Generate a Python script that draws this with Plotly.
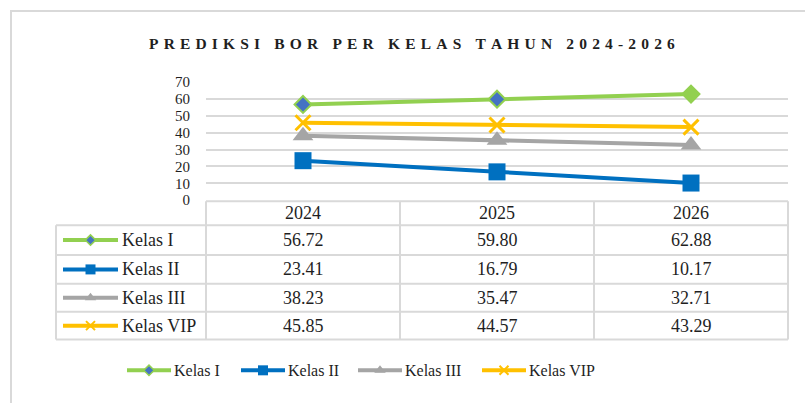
import plotly.graph_objects as go

# ---------------- data ----------------
title = "PREDIKSI BOR PER KELAS TAHUN 2024-2026"
years = ["2024", "2025", "2026"]
series_names = ["Kelas I", "Kelas II", "Kelas III", "Kelas VIP"]
kelas_i = [56.72, 59.80, 62.88]
kelas_ii = [23.41, 16.79, 10.17]
kelas_iii = [38.23, 35.47, 32.71]
kelas_vip = [45.85, 44.57, 43.29]
y_ticks = [0, 10, 20, 30, 40, 50, 60, 70]

series_values = [kelas_i, kelas_ii, kelas_iii, kelas_vip]

# ---------------- styles ----------------
W, H = 805, 411
FONT = "'Times New Roman', 'Liberation Serif', 'DejaVu Serif', serif"
TXT = "#1f1f1f"
GRID = "#d9d9d9"
styles = [
    dict(color="#92D050", symbol="diamond", size=13, mcolor=["#4472C4", "#4472C4", "#92D050"],
         mline=dict(color="#92D050", width=2), lsize=8, lmcolor="#4472C4", lmline=dict(color="#92D050", width=1.5)),
    dict(color="#0070C0", symbol="square", size=17, mcolor="#0070C0",
         mline=dict(width=0), lsize=10, lmcolor="#0070C0", lmline=dict(width=0)),
    dict(color="#A5A5A5", symbol="triangle-up", size=18, mcolor="#A5A5A5",
         mline=dict(width=0), lsize=10, lmcolor="#A5A5A5", lmline=dict(width=0)),
    dict(color="#FFC000", symbol="x-thin", size=15, mcolor="#FFC000",
         mline=dict(color="#FFC000", width=3), lsize=9, lmcolor="#FFC000", lmline=dict(color="#FFC000", width=2)),
]

x_left, x_right = 206, 788
y_top, y_bot = 77, 200

fig = go.Figure()

# main lines
for name, vals, st in zip(series_names, series_values, styles):
    fig.add_trace(go.Scatter(
        x=list(range(len(years))), y=vals, mode="lines+markers", name=name,
        line=dict(color=st["color"], width=4),
        marker=dict(symbol=st["symbol"], size=st["size"], color=st["mcolor"], line=st["mline"]),
        showlegend=False, xaxis="x", yaxis="y", cliponaxis=False,
    ))

# ---------------- pixel overlay coordinates ----------------
shapes = []
annotations = []

def px_line(x0, y0, x1, y1, color=GRID, width=2):
    shapes.append(dict(type="line", xref="x2", yref="y2", x0=x0, y0=y0, x1=x1, y1=y1,
                       line=dict(color=color, width=width), layer="below"))

# outer frame
shapes.append(dict(type="rect", xref="x2", yref="y2", x0=11, y0=3, x1=812, y1=420,
                   line=dict(color=GRID, width=2), layer="below"))

# table
col_edges = [206, 400, 594, 788]
row_edges = [201, 226, 257, 287, 316, 345]
label_left = 56
px_line(col_edges[0], row_edges[0], col_edges[-1], row_edges[0])
for ry in row_edges[1:]:
    px_line(label_left, ry, col_edges[-1], ry)
px_line(col_edges[0], row_edges[0], col_edges[0], row_edges[-1])
for cx in col_edges[1:]:
    px_line(cx, row_edges[0], cx, row_edges[-1])
px_line(label_left, row_edges[1], label_left, row_edges[-1])

col_centers = [(col_edges[i] + col_edges[i + 1]) / 2 for i in range(3)]
row_centers = [(row_edges[i] + row_edges[i + 1]) / 2 for i in range(5)]

for ci, yr in enumerate(years):
    annotations.append(dict(xref="x2", yref="y2", x=col_centers[ci], y=row_centers[0], text=yr,
                            showarrow=False, font=dict(family=FONT, size=18, color=TXT)))
for ri, (name, vals, st) in enumerate(zip(series_names, series_values, styles)):
    yc = row_centers[ri + 1]
    for ci, v in enumerate(vals):
        annotations.append(dict(xref="x2", yref="y2", x=col_centers[ci], y=yc, text=f"{v:.2f}",
                                showarrow=False, font=dict(family=FONT, size=18, color=TXT)))
    # key line + label
    fig.add_trace(go.Scatter(x=[63, 118], y=[yc, yc], mode="lines", line=dict(color=st["color"], width=4),
                             xaxis="x2", yaxis="y2", showlegend=False, hoverinfo="skip"))
    fig.add_trace(go.Scatter(x=[90.5], y=[yc], mode="markers",
                             marker=dict(symbol=st["symbol"], size=st["lsize"], color=st["lmcolor"], line=st["lmline"]),
                             xaxis="x2", yaxis="y2", showlegend=False, hoverinfo="skip"))
    annotations.append(dict(xref="x2", yref="y2", x=120, y=yc, text=name, xanchor="left",
                            showarrow=False, font=dict(family=FONT, size=18, color=TXT)))

# bottom legend
leg_y = 377
leg_x0 = [127, 241, 358, 482]
for lx, name, st in zip(leg_x0, series_names, styles):
    fig.add_trace(go.Scatter(x=[lx, lx + 44], y=[leg_y, leg_y], mode="lines", line=dict(color=st["color"], width=4),
                             xaxis="x2", yaxis="y2", showlegend=False, hoverinfo="skip"))
    fig.add_trace(go.Scatter(x=[lx + 22], y=[leg_y], mode="markers",
                             marker=dict(symbol=st["symbol"], size=st["lsize"], color=st["lmcolor"], line=st["lmline"]),
                             xaxis="x2", yaxis="y2", showlegend=False, hoverinfo="skip"))
    annotations.append(dict(xref="x2", yref="y2", x=lx + 45, y=leg_y, text=name, xanchor="left",
                            showarrow=False, font=dict(family=FONT, size=16, color=TXT)))

# title with letter spacing
spaced = "\u2004".join(title)
annotations.append(dict(xref="x2", yref="y2", x=412, y=37, text="<b>" + spaced + "</b>",
                        showarrow=False, font=dict(family=FONT, size=15.5, color=TXT)))

fig.update_layout(
    width=W, height=H,
    margin=dict(l=0, r=0, t=0, b=0),
    paper_bgcolor="white", plot_bgcolor="rgba(0,0,0,0)",
    xaxis=dict(domain=[x_left / W, x_right / W], range=[-0.5, 2.5], showgrid=False, zeroline=False,
               showticklabels=False, showline=False, fixedrange=True),
    yaxis=dict(domain=[1 - y_bot / H, 1 - y_top / H], range=[0, 70], tickvals=y_ticks,
               showgrid=True, gridcolor=GRID, gridwidth=2, zeroline=False, showline=False,
               tickfont=dict(family=FONT, size=15, color=TXT), ticklabelstandoff=15, fixedrange=True),
    xaxis2=dict(domain=[0, 1], range=[0, W], visible=False, fixedrange=True),
    yaxis2=dict(domain=[0, 1], range=[H, 0], visible=False, fixedrange=True, anchor="x2"),
    shapes=shapes,
    annotations=annotations,
    showlegend=False,
)

fig.write_html("out.html")
